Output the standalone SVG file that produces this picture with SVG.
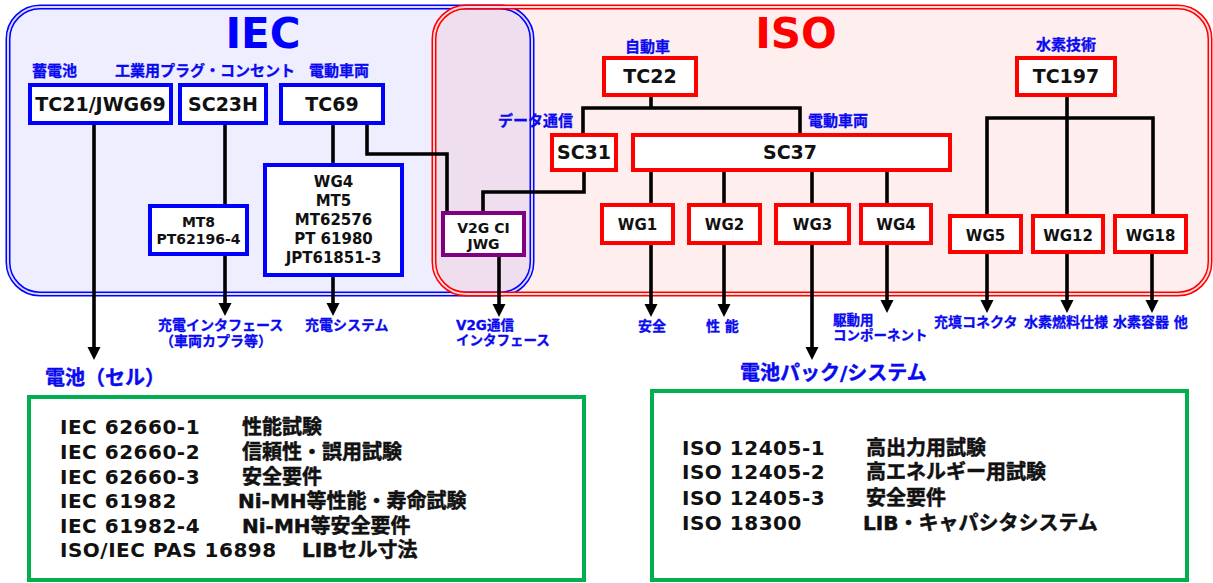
<svg xmlns="http://www.w3.org/2000/svg" width="1213" height="583" viewBox="0 0 1213 583">
<style>
.lat{font-family:"DejaVu Sans","Noto Sans CJK JP",sans-serif;font-weight:bold}
.jp{font-family:"DejaVu Sans","Noto Sans CJK JP",sans-serif;font-weight:bold}
.blk{fill:#111}
.lbl{fill:#0a0af0;font-size:15px;stroke:#0a0af0;stroke-width:0.3}
.lbl2{fill:#0a0af0;font-size:14px;stroke:#0a0af0;stroke-width:0.3}
.lbl3{fill:#0a0af0;font-size:13.5px;stroke:#0a0af0;stroke-width:0.3}
.big{fill:#0a0af0;font-size:20px;stroke:#0a0af0;stroke-width:0.4}
.jb{stroke:#111;stroke-width:0.5}
.ls{letter-spacing:0.5px}
.bb{fill:#fff;stroke:#0000ff;stroke-width:4}
.rb{fill:#fff;stroke:#ff0000;stroke-width:4}
.pb{fill:#fff;stroke:#800080;stroke-width:4}
.gb{fill:#fff;stroke:#00b050;stroke-width:4}
.c{fill:none;stroke:#000;stroke-width:3.6}
.a{marker-end:url(#arr)}
.t19{font-size:19px}
.t15{font-size:15px}
.t14{font-size:14px}
.t20{font-size:20px}
</style>
<defs>
<marker id="arr" markerUnits="userSpaceOnUse" markerWidth="14" markerHeight="14" refX="2" refY="6.5" orient="auto">
<path d="M0,0 L13,6.5 L0,13 z" fill="#000"/>
</marker>
</defs>
<rect width="1213" height="583" fill="#fff"/>
<g id="iec-area">
<rect x="8" y="7" width="524" height="287" rx="32" fill="#0000ff" fill-opacity="0.067"/>
</g>
<g id="iso-area">
<rect x="434" y="7" width="776" height="287" rx="32" fill="#ff0000" fill-opacity="0.065"/>
</g>
<g id="area-borders" fill="none">
<rect x="8" y="7" width="524" height="287" rx="32" stroke="#0000ff" stroke-width="5"/>
<rect x="8" y="7" width="524" height="287" rx="32" stroke="#fff" stroke-width="2" stroke-opacity="0.85"/>
<rect x="434" y="7" width="776" height="287" rx="32" stroke="#ff0000" stroke-width="5"/>
<rect x="434" y="7" width="776" height="287" rx="32" stroke="#fff" stroke-width="2" stroke-opacity="0.85"/>
</g>
<text class="lat" x="263" y="48" font-size="42" fill="#0000ff" text-anchor="middle">IEC</text>
<text class="lat" x="796" y="48" font-size="42" fill="#ff0000" text-anchor="middle">ISO</text>
<g id="connectors">
<path class="c a" d="M94,123 V349"/>
<path class="c" d="M225,123 V206"/>
<path class="c a" d="M225,254 V305"/>
<path class="c" d="M333,123 V165"/>
<path class="c a" d="M333,275 V305"/>
<path class="c" d="M367,123 V154 H447 V213"/>
<path class="c a" d="M499,255 V306"/>
<path class="c" d="M651,95 V108"/>
<path class="c" d="M583,135 V108 H800 V135"/>
<path class="c" d="M584,170 V192 H483 V213"/>
<path class="c" d="M651,170 V205"/>
<path class="c" d="M724,170 V205"/>
<path class="c" d="M812,170 V205"/>
<path class="c" d="M887,170 V205"/>
<path class="c a" d="M651,243 V306"/>
<path class="c a" d="M724,243 V306"/>
<path class="c a" d="M812,243 V349"/>
<path class="c a" d="M887,243 V302"/>
<path class="c" d="M1067,95 V216"/>
<path class="c" d="M987,216 V118 H1153 V216"/>
<path class="c a" d="M987,252 V302"/>
<path class="c a" d="M1067,252 V302"/>
<path class="c a" d="M1152,252 V302"/>
</g>
<g id="labels-top">
<text class="jp lbl" x="32" y="76">蓄電池</text>
<text class="jp lbl" x="115" y="76">工業用プラグ・コンセント</text>
<text class="jp lbl" x="309" y="76">電動車両</text>
<text class="jp lbl" x="625" y="52">自動車</text>
<text class="jp lbl" x="498" y="126">データ通信</text>
<text class="jp lbl" x="808" y="126">電動車両</text>
<text class="jp lbl" x="1036" y="50">水素技術</text>
</g>
<g id="n-tc21">
<rect class="bb" x="30" y="85" width="141" height="38"/>
<text class="lat blk t19" x="100.5" y="111" text-anchor="middle">TC21/JWG69</text>
</g>
<g id="n-sc23h">
<rect class="bb" x="180" y="85" width="86" height="38"/>
<text class="lat blk t19" x="223" y="111" text-anchor="middle">SC23H</text>
</g>
<g id="n-tc69">
<rect class="bb" x="281" y="85" width="102" height="38"/>
<text class="lat blk t19" x="332" y="111" text-anchor="middle">TC69</text>
</g>
<g id="n-mt8">
<rect class="bb" x="150" y="206" width="97" height="48"/>
<text class="lat blk t14" x="198.5" y="227" text-anchor="middle">MT8</text>
<text class="lat blk t14" x="198.5" y="244" text-anchor="middle">PT62196-4</text>
</g>
<g id="n-wg4iec">
<rect class="bb" x="265" y="165" width="137" height="110"/>
<text class="lat blk t15" x="333.5" y="187" text-anchor="middle">WG4</text>
<text class="lat blk t15" x="333.5" y="206" text-anchor="middle">MT5</text>
<text class="lat blk t15" x="333.5" y="225" text-anchor="middle">MT62576</text>
<text class="lat blk t15" x="333.5" y="244" text-anchor="middle">PT 61980</text>
<text class="lat blk t15" x="333.5" y="263" text-anchor="middle">JPT61851-3</text>
</g>
<g id="n-v2g">
<rect class="pb" x="443" y="213" width="81" height="42"/>
<text class="lat blk t14" x="483.5" y="233" text-anchor="middle">V2G CI</text>
<text class="lat blk t14" x="483.5" y="249" text-anchor="middle">JWG</text>
</g>
<g id="n-tc22">
<rect class="rb" x="604" y="58" width="92" height="37"/>
<text class="lat blk t19" x="650" y="83" text-anchor="middle">TC22</text>
</g>
<g id="n-sc31">
<rect class="rb" x="552" y="135" width="64" height="35"/>
<text class="lat blk t19" x="584" y="159" text-anchor="middle">SC31</text>
</g>
<g id="n-sc37">
<rect class="rb" x="633" y="135" width="317" height="35"/>
<text class="lat blk t19" x="790" y="159" text-anchor="middle">SC37</text>
</g>
<g id="n-wg1">
<rect class="rb" x="602" y="205" width="71" height="38"/>
<text class="lat blk t15" x="637.5" y="230" text-anchor="middle">WG1</text>
</g>
<g id="n-wg2">
<rect class="rb" x="689" y="205" width="71" height="38"/>
<text class="lat blk t15" x="724.5" y="230" text-anchor="middle">WG2</text>
</g>
<g id="n-wg3">
<rect class="rb" x="776" y="205" width="73" height="38"/>
<text class="lat blk t15" x="812.5" y="230" text-anchor="middle">WG3</text>
</g>
<g id="n-wg4">
<rect class="rb" x="861" y="205" width="70" height="38"/>
<text class="lat blk t15" x="896" y="230" text-anchor="middle">WG4</text>
</g>
<g id="n-tc197">
<rect class="rb" x="1017" y="58" width="98" height="37"/>
<text class="lat blk t19" x="1066" y="83" text-anchor="middle">TC197</text>
</g>
<g id="n-wg5">
<rect class="rb" x="950" y="216" width="71" height="36"/>
<text class="lat blk t15" x="985.5" y="241" text-anchor="middle">WG5</text>
</g>
<g id="n-wg12">
<rect class="rb" x="1033" y="216" width="70" height="36"/>
<text class="lat blk t15" x="1068" y="241" text-anchor="middle">WG12</text>
</g>
<g id="n-wg18">
<rect class="rb" x="1115" y="216" width="71" height="36"/>
<text class="lat blk t15" x="1150.5" y="241" text-anchor="middle">WG18</text>
</g>
<g id="labels-bottom">
<text class="jp lbl2" x="158" y="330">充電インタフェース</text>
<text class="jp lbl2" x="160" y="346">（車両カプラ等）</text>
<text class="jp lbl2" x="305" y="330">充電システム</text>
<text class="jp lbl3" x="456" y="330">V2G通信</text>
<text class="jp lbl3" x="456" y="345">インタフェース</text>
<text class="jp lbl2" x="638" y="331">安全</text>
<text class="jp lbl2" x="706" y="331">性 能</text>
<text class="jp lbl3" x="833" y="325">駆動用</text>
<text class="jp lbl3" x="833" y="340">コンポーネント</text>
<text class="jp lbl2" x="934" y="327">充填コネクタ</text>
<text class="jp lbl2" x="1024" y="327">水素燃料仕様</text>
<text class="jp lbl2" x="1113" y="327">水素容器 他</text>
<text class="jp big" x="45" y="385">電池（セル）</text>
<text class="jp big" x="740" y="380">電池パック/システム</text>
</g>
<g id="n-cell">
<rect class="gb" x="29" y="397" width="555" height="183"/>
<g class="lat blk t20">
<text class="ls" x="60" y="434">IEC 62660-1</text><text class="jb" x="242" y="434">性能試験</text>
<text class="ls" x="60" y="459">IEC 62660-2</text><text class="jb" x="242" y="459">信頼性・誤用試験</text>
<text class="ls" x="60" y="484">IEC 62660-3</text><text class="jb" x="242" y="484">安全要件</text>
<text class="ls" x="60" y="508">IEC 61982</text><text class="jb" x="238" y="508">Ni-MH等性能・寿命試験</text>
<text class="ls" x="60" y="533">IEC 61982-4</text><text class="jb" x="242" y="533">Ni-MH等安全要件</text>
<text class="ls" x="60" y="557">ISO/IEC PAS 16898</text><text class="jb" x="302" y="557">LIBセル寸法</text>
</g>
</g>
<g id="n-pack">
<rect class="gb" x="652" y="391" width="535" height="189"/>
<g class="lat blk t20">
<text class="ls" x="682" y="455">ISO 12405-1</text><text class="jb" x="866" y="455">高出力用試験</text>
<text class="ls" x="682" y="479">ISO 12405-2</text><text class="jb" x="866" y="479">高エネルギー用試験</text>
<text class="ls" x="682" y="505">ISO 12405-3</text><text class="jb" x="866" y="505">安全要件</text>
<text class="ls" x="682" y="530">ISO 18300</text><text class="jb" x="863" y="530">LIB・キャパシタシステム</text>
</g>
</g>
</svg>
